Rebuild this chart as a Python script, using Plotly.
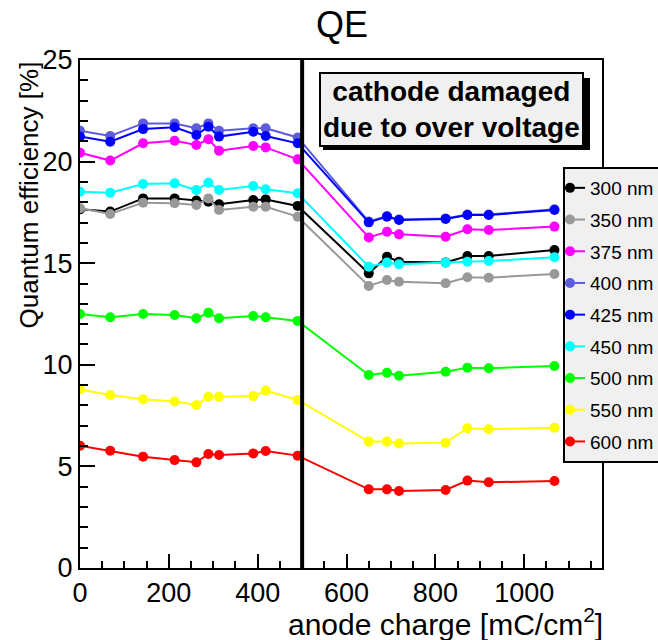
import plotly.graph_objects as go

# ---- data ----
charge = [0, 68, 142, 213, 262, 289, 313, 390, 418, 490, 650, 691, 718, 823, 872, 920, 1068]
wavelengths = ["300 nm", "350 nm", "375 nm", "400 nm", "425 nm", "450 nm", "500 nm", "550 nm", "600 nm"]
q300 = [17.65, 17.54, 18.19, 18.19, 18.08, 18.03, 17.9, 18.11, 18.14, 17.82, 14.5, 15.32, 15.07, 15.04, 15.35, 15.35, 15.65]
q350 = [17.7, 17.42, 17.98, 17.95, 17.86, 18.19, 17.62, 17.78, 17.78, 17.29, 13.88, 14.17, 14.09, 14.01, 14.31, 14.29, 14.47]
q375 = [20.44, 20.05, 20.9, 21.03, 20.82, 21.1, 20.54, 20.77, 20.7, 20.11, 16.27, 16.55, 16.42, 16.3, 16.67, 16.63, 16.8]
q400 = [21.52, 21.26, 21.88, 21.88, 21.64, 21.88, 21.52, 21.64, 21.64, 21.19, 17.05, 17.32, 17.15, 17.2, 17.4, 17.4, 17.65]
q425 = [21.23, 20.98, 21.6, 21.69, 21.31, 21.72, 21.23, 21.47, 21.26, 20.9, 17.01, 17.29, 17.13, 17.18, 17.37, 17.37, 17.62]
q450 = [18.52, 18.47, 18.9, 18.93, 18.6, 18.96, 18.6, 18.8, 18.64, 18.44, 14.83, 15.03, 14.95, 15.03, 15.07, 15.11, 15.29]
q500 = [12.5, 12.34, 12.5, 12.45, 12.29, 12.56, 12.29, 12.4, 12.34, 12.16, 9.5, 9.61, 9.46, 9.66, 9.86, 9.83, 9.94]
q550 = [8.79, 8.51, 8.3, 8.19, 8.02, 8.43, 8.43, 8.46, 8.73, 8.27, 6.22, 6.22, 6.13, 6.17, 6.88, 6.83, 6.9]
q600 = [6.02, 5.77, 5.48, 5.31, 5.2, 5.61, 5.56, 5.64, 5.76, 5.53, 3.87, 3.87, 3.79, 3.84, 4.3, 4.22, 4.28]
series = [q300, q350, q375, q400, q425, q450, q500, q550, q600]
colors = ["#000000", "#999999", "#ff00ff", "#5c5cdc", "#0000ff", "#00ffff", "#00ff00", "#ffff00", "#ff0000"]
damage_x = 500
x_range = [0, 1175]
y_range = [0, 25]

FONT = "Liberation Sans, Arial, sans-serif"
PW, PH = 522, 508  # plot area size in px


def px_x(p):
    return (p - 80) / PW


def px_y(p):
    return (568 - p) / PH


fig = go.Figure()
for name, ys, c in zip(wavelengths, series, colors):
    fig.add_trace(go.Scatter(
        x=charge, y=ys, name=name, mode="lines+markers",
        line=dict(color=c, width=2),
        marker=dict(color=c, size=10),
        legendgroup=name,
    ))

fig.add_shape(type="line", xref="x", yref="paper", x0=damage_x, x1=damage_x, y0=0, y1=1,
              line=dict(color="black", width=4))

# drop shadow of the text box
fig.add_shape(type="rect", xref="paper", yref="paper",
              x0=px_x(323), x1=px_x(590), y0=px_y(150), y1=px_y(78),
              line=dict(width=0), fillcolor="black", layer="above")

box_text = "<b>cathode damaged</b><br><b>due to over voltage</b>"
fig.add_annotation(xref="paper", yref="paper", x=px_x(451), y=px_y(109),
                   xanchor="center", yanchor="middle",
                   text=box_text, showarrow=False,
                   font=dict(family=FONT, size=28, color="black"),
                   bgcolor="#f0f0f0", bordercolor="black", borderwidth=2, borderpad=2)

# axis titles
fig.add_annotation(xref="paper", yref="paper", x=px_x(28), y=1,
                   xanchor="center", yanchor="top", textangle=-90,
                   text="Quantum efficiency [%]", showarrow=False,
                   font=dict(family=FONT, size=26, color="black"))
fig.add_annotation(xref="paper", yref="paper", x=1.005, y=-54 / PH,
                   xanchor="right", yanchor="middle",
                   text="anode charge [mC/cm<sup>2</sup>]", showarrow=False,
                   font=dict(family=FONT, size=30, color="black"))

fig.update_layout(
    width=658, height=640,
    margin=dict(l=80, r=56, t=60, b=72, autoexpand=False),
    paper_bgcolor="white", plot_bgcolor="white",
    font=dict(family=FONT, color="black"),
    title=dict(text="QE", x=342 / 658, xanchor="center", y=1 - 24 / 640, yanchor="middle",
               font=dict(family=FONT, size=36, color="black")),
    showlegend=True,
    legend=dict(x=px_x(563), y=px_y(167), xanchor="left", yanchor="top",
                bgcolor="#f0f0f0", bordercolor="black", borderwidth=2,
                font=dict(family=FONT, size=19, color="black"),
                traceorder="grouped", tracegroupgap=4, indentation=-15),
    xaxis=dict(range=x_range, showgrid=False, zeroline=False,
               showline=True, linecolor="black", linewidth=2, mirror=True,
               ticks="inside", ticklen=14, tickwidth=1.5, tickcolor="black",
               tick0=0, dtick=200,
               minor=dict(ticks="inside", ticklen=7, tickwidth=1.5, tickcolor="black", dtick=50),
               tickfont=dict(family=FONT, size=27, color="black")),
    yaxis=dict(range=y_range, showgrid=False, zeroline=False,
               showline=True, linecolor="black", linewidth=2, mirror=True,
               ticks="inside", ticklen=15, tickwidth=1.5, tickcolor="black",
               tick0=0, dtick=5,
               minor=dict(ticks="inside", ticklen=8, tickwidth=1.5, tickcolor="black", dtick=1),
               tickfont=dict(family=FONT, size=27, color="black")),
)

fig.write_html("out.html")
